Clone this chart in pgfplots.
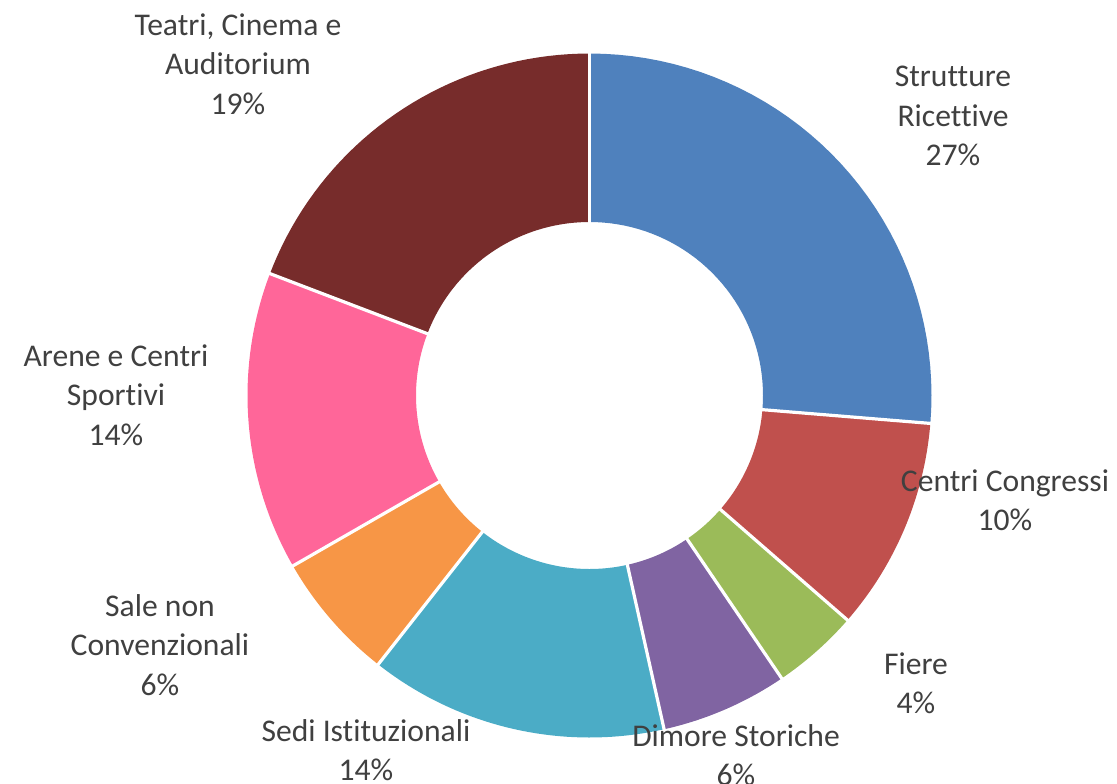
\documentclass[border=0pt]{standalone}
\usepackage{pgfplots}
\pgfplotsset{compat=1.18}
\usepackage{fontspec}
\setmainfont{Carlito}[Ligatures={NoCommon}]
\definecolor{cStr}{HTML}{4F81BD}
\definecolor{cCon}{HTML}{C0504D}
\definecolor{cFie}{HTML}{9BBB59}
\definecolor{cDim}{HTML}{8064A2}
\definecolor{cSed}{HTML}{4BACC6}
\definecolor{cSal}{HTML}{F79646}
\definecolor{cAre}{HTML}{FF6699}
\definecolor{cTea}{HTML}{772C2B}
\definecolor{lab}{HTML}{404040}
% centre (px), outer and inner radius (px)
\def\cx{589.5}\def\cy{395.5}\def\RR{342}\def\rr{173.5}
% segment between cumulative percentages #1 and #2
\newcommand\seg[3]{%
\addplot[fill=#3, draw=none, domain=0:82, samples=83]
 ({\cx+((x<=40)?\RR:((x<=81)?\rr:\RR))*sin(3.6*((x<=40)?(#1+(#2-#1)*x/40):((x<=81)?(#2-(#2-#1)*(x-41)/40):#1)))},
  {\cy-((x<=40)?\RR:((x<=81)?\rr:\RR))*cos(3.6*((x<=40)?(#1+(#2-#1)*x/40):((x<=81)?(#2-(#2-#1)*(x-41)/40):#1)))});
}
\newcommand\edge[1]{%
\addplot[white, line width=2.4pt, domain=\rr-2:\RR+2, samples=2]
 ({\cx+x*sin(3.6*#1)},{\cy-x*cos(3.6*#1)});
}
\begin{document}
\begin{tikzpicture}
\useasboundingbox (0,0) rectangle (837.75pt,587.25pt);
\clip (0,0) rectangle (837.75pt,587.25pt);
\begin{axis}[at={(0,0)}, anchor=south west,
  width=837.75pt, height=587.25pt, scale only axis,
  xmin=0, xmax=1117, ymin=0, ymax=783, y dir=reverse,
  hide axis, clip=false]
% shares (%): 26.3, 10.1, 4.1, 6.0, 14.1, 6.1, 14.1, 19.2
\seg{0}{26.3}{cStr}
\seg{26.3}{36.4}{cCon}
\seg{36.4}{40.5}{cFie}
\seg{40.5}{46.5}{cDim}
\seg{46.5}{60.6}{cSed}
\seg{60.6}{66.7}{cSal}
\seg{66.7}{80.8}{cAre}
\seg{80.8}{100}{cTea}
\edge{0}\edge{26.3}\edge{36.4}\edge{40.5}\edge{46.5}\edge{60.6}\edge{66.7}\edge{80.8}
\tikzset{lbl/.style={align=center, inner sep=0pt, text=lab, font=\fontsize{23.7}{29.6}\selectfont}}
\node[lbl] at (axis cs:238,64) {Teatri, Cinema e\\Auditorium\\19\%};
\node[lbl] at (axis cs:953,116) {Strutture\\Ricettive\\27\%};
\node[lbl] at (axis cs:1005,500) {Centri Congressi\\10\%};
\node[lbl] at (axis cs:916,683) {Fiere\\4\%};
\node[lbl] at (axis cs:736,755) {Dimore Storiche\\6\%};
\node[lbl] at (axis cs:366,750) {Sedi Istituzionali\\14\%};
\node[lbl] at (axis cs:160,645) {Sale non\\Convenzionali\\6\%};
\node[lbl] at (axis cs:116,395) {Arene e Centri\\Sportivi\\14\%};
\end{axis}
\end{tikzpicture}
\end{document}
